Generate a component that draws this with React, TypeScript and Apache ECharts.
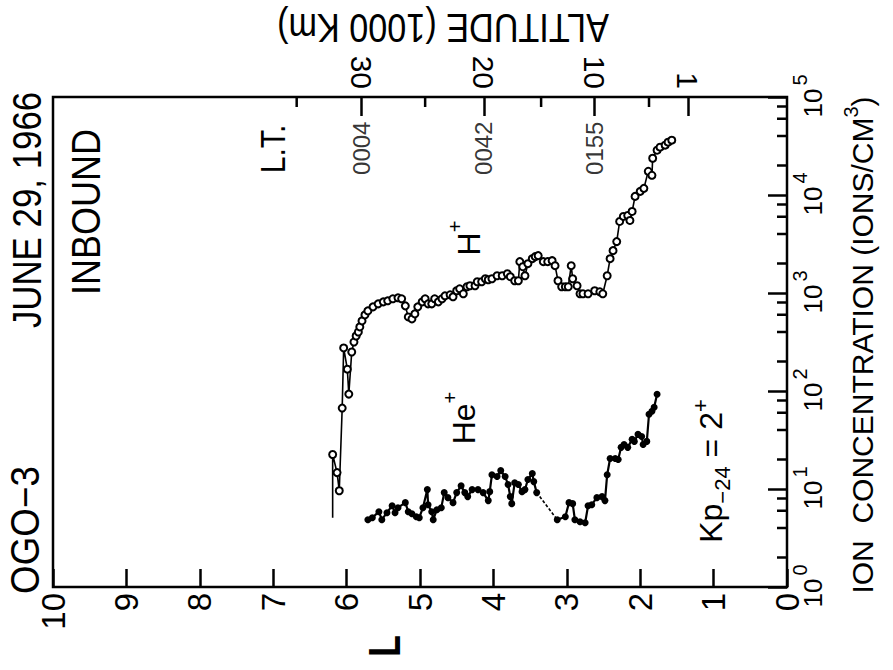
import React, { useEffect, useRef } from 'react';
import * as echarts from 'echarts';

// ---- data ----
// H+ : L-shell value and ion concentration (ions/cm^3)
const hPlusL = [
  6.19, 6.19, 6.13, 6.10, 6.06, 6.04, 5.99, 5.97, 5.93, 5.90,
  5.87, 5.84, 5.82, 5.79, 5.75, 5.71, 5.64, 5.57, 5.50, 5.44,
  5.37, 5.30, 5.25, 5.20, 5.16, 5.11, 5.07, 5.03, 4.97, 4.93,
  4.89, 4.84, 4.80, 4.75, 4.70, 4.66, 4.59, 4.55, 4.50, 4.46,
  4.41, 4.36, 4.32, 4.25, 4.22, 4.16, 4.11, 4.07, 4.02, 3.95,
  3.88, 3.81, 3.77, 3.71, 3.66, 3.64, 3.60, 3.57, 3.53, 3.47,
  3.43, 3.39, 3.32, 3.26, 3.20, 3.16, 3.12, 3.07, 3.02, 2.98,
  2.94, 2.92, 2.86, 2.82, 2.78, 2.71, 2.62, 2.55, 2.51, 2.45,
  2.41, 2.37, 2.32, 2.28, 2.23, 2.17, 2.14, 2.11, 2.07, 2.00,
  1.95, 1.89, 1.84, 1.83, 1.77, 1.73, 1.66, 1.62, 1.57,
];
const hPlusN = [
  5.1, 22.5, 14.7, 9.6, 67, 275, 167, 93, 250, 316,
  364, 400, 451, 519, 598, 657, 722, 775, 812, 832,
  873, 893, 873, 739, 570, 544, 612, 722, 812, 873,
  775, 775, 873, 812, 873, 936, 959, 914, 1054, 1104,
  982, 1158, 1186, 1186, 1303, 1303, 1397, 1365, 1397, 1500,
  1500, 1573, 1466, 1334, 1334, 2089, 1854, 1500, 1991, 2240,
  2349, 2405, 2089, 2089, 2138, 1900, 1334, 1158, 1158, 1158,
  1900, 1397, 1186, 982, 982, 982, 1054, 1029, 982, 1500,
  2240, 2706, 3347, 5370, 6040, 6180, 5496, 6790, 9680, 10890,
  11690, 17460, 15890, 23710, 28640, 30760, 32230, 34590, 36250,
];
// He+
const heL = [
  5.71, 5.65, 5.56, 5.52, 5.45, 5.38, 5.34, 5.30, 5.20, 5.16,
  5.11, 5.05, 5.01, 4.96, 4.90, 4.89, 4.84, 4.82, 4.77, 4.71,
  4.67, 4.62, 4.55, 4.50, 4.44, 4.39, 4.35, 4.29, 4.21, 4.14,
  4.07, 4.05, 4.02, 3.95, 3.90, 3.84, 3.80, 3.77, 3.75, 3.71,
  3.66, 3.61, 3.57, 3.53, 3.47, 3.45, 3.41, 3.13, 3.02, 2.97,
  2.92, 2.89, 2.82, 2.75, 2.71, 2.66, 2.59, 2.52, 2.48, 2.45,
  2.41, 2.34, 2.30, 2.26, 2.22, 2.17, 2.11, 2.08, 2.03, 1.98,
  1.96, 1.91, 1.88, 1.84, 1.81, 1.77,
];
const heN = [
  4.86, 5.09, 5.87, 4.86, 5.73, 6.76, 5.73, 6.45, 7.26, 5.87,
  5.60, 5.21, 5.09, 6.45, 9.86, 6.92, 5.87, 4.86, 6.15, 6.45,
  9.19, 8.16, 7.26, 9.19, 10.8, 9.19, 8.36, 9.86, 9.86, 9.19,
  7.61, 9.40, 14.0, 13.4, 15.4, 13.4, 11.1, 8.36, 7.09, 11.6,
  11.1, 9.40, 9.86, 12.5, 14.4, 11.9, 9.19, 4.86, 5.21, 7.26,
  7.09, 4.86, 4.63, 4.53, 6.76, 6.92, 8.16, 8.36, 7.61, 14.0,
  20.5, 20.5, 20.0, 26.6, 28.5, 26.6, 32.1, 30.6, 36.1, 34.4,
  28.5, 30.6, 57.9, 62.1, 68.2, 92.8,
];
const heGapAfter = 46; // dotted segment between this point and the next

// axes
const lMin = 0;
const lMax = 10;
const concMin = 1;
const concMax = 100000;
const concDecades = [1, 10, 100, 1000, 10000, 100000];
const concMinorTicks = [
  2, 4, 6, 8, 20, 40, 60, 80, 200, 400, 600, 800,
  2000, 4000, 6000, 8000, 20000, 40000, 60000, 80000,
];
const altitudeTickL = [5.80, 4.13, 2.62, 1.35];
const altitudeLabels = ['30', '20', '10', '1'];
const altitudeMinorL = [6.68, 4.93, 3.35, 1.88];
const ltL = [5.80, 4.13, 2.62];
const ltLabels = ['0004', '0042', '0155'];
const ltLevel = 30000;

const REG = "'Liberation Sans', Arial, Helvetica, sans-serif";

function vText(x: number, y: number, text: string, fontSize: number, squeeze: number, extra: any = {}) {
  return {
    type: 'text', x, y, rotation: Math.PI / 2, scaleX: squeeze,
    style: { text, fontSize, fontFamily: REG, fill: '#000', align: 'center', verticalAlign: 'middle', ...extra },
  };
}

export default function App() {
  const ref = useRef<HTMLDivElement>(null);
  useEffect(() => {
    if (!ref.current) return;
    const chart = echarts.init(ref.current, null, { renderer: 'svg' });

    const hData = hPlusL.map((L, i) =>
      i === 0 ? { value: [L, hPlusN[i]], symbol: 'none' } : [L, hPlusN[i]]
    );
    const heData = heL.map((L, i) => [L, heN[i]]);
    const tickStyle = { color: '#000', width: 2.5 };

    const option: any = {
      animation: false,
      backgroundColor: '#fff',
      grid: {
        left: 53, right: 106, top: 97, bottom: 83,
        show: true, borderColor: '#000', borderWidth: 2.5,
        backgroundColor: 'transparent',
      },
      xAxis: [
        {
          type: 'value', min: lMin, max: lMax, interval: 1, inverse: true,
          position: 'bottom',
          axisLine: { show: false }, splitLine: { show: false },
          axisTick: { show: true, inside: true, length: 18, lineStyle: tickStyle },
          axisLabel: {
            rotate: 90, margin: 6, fontSize: 33, fontFamily: REG, color: '#000',
            showMinLabel: true, showMaxLabel: true,
          },
        },
        {
          type: 'value', min: lMin, max: lMax, inverse: true, position: 'top',
          axisLine: { show: false }, splitLine: { show: false },
          axisTick: {
            show: true, inside: true, length: 19, customValues: altitudeTickL,
            lineStyle: tickStyle,
          },
          axisLabel: {
            customValues: altitudeTickL, rotate: 90, margin: 8, fontSize: 30,
            fontFamily: REG, color: '#000',
            formatter: (v: number) => {
              let best = 0;
              for (let i = 1; i < altitudeTickL.length; i++) {
                if (Math.abs(altitudeTickL[i] - v) < Math.abs(altitudeTickL[best] - v)) best = i;
              }
              return altitudeLabels[best];
            },
          },
        },
      ],
      yAxis: {
        type: 'log', logBase: 10, min: concMin, max: concMax, splitNumber: 5,
        position: 'right',
        axisLine: { show: false }, splitLine: { show: false },
        axisTick: { show: true, inside: true, length: 19, lineStyle: tickStyle },
        axisLabel: { show: false },
      },
      series: [
        {
          name: 'H+', type: 'line', data: hData, xAxisIndex: 0, yAxisIndex: 0,
          symbol: 'emptyCircle', symbolSize: 7,
          lineStyle: { color: '#000', width: 1.6 },
          itemStyle: { color: '#000', borderWidth: 1.4 },
          z: 3,
        },
        {
          name: 'He+', type: 'line', data: heData.slice(0, heGapAfter + 1),
          symbol: 'circle', symbolSize: 7,
          lineStyle: { color: '#000', width: 2.2 }, itemStyle: { color: '#000' }, z: 3,
        },
        {
          name: 'He+ (b)', type: 'line', data: heData.slice(heGapAfter + 1),
          symbol: 'circle', symbolSize: 7,
          lineStyle: { color: '#000', width: 2.2 }, itemStyle: { color: '#000' }, z: 3,
        },
        {
          name: 'He+ gap', type: 'line', data: heData.slice(heGapAfter, heGapAfter + 2),
          symbol: 'none', lineStyle: { color: '#000', width: 1.6, type: [3, 2] }, z: 2,
        },
        {
          name: 'L.T.', type: 'scatter', data: ltL.map((L, i) => ({ value: [L, ltLevel], name: ltLabels[i] })),
          symbolSize: 1, itemStyle: { color: 'transparent' }, silent: true,
          label: {
            show: true, position: 'inside', rotate: 90, formatter: (p: any) => p.name,
            fontSize: 24, fontFamily: REG, color: '#000',
          },
        },
        {
          name: 'minor-y', type: 'custom', silent: true, z: 5,
          data: concMinorTicks.map((v) => [lMin, v]),
          renderItem: (params: any, api: any) => {
            const p = api.coord([api.value(0), api.value(1)]);
            return {
              type: 'line',
              shape: { x1: p[0], y1: p[1], x2: p[0] - 10, y2: p[1] },
              style: { stroke: '#000', lineWidth: 2.5 },
            };
          },
        },
        {
          name: 'y-labels', type: 'custom', silent: true, z: 5, clip: false,
          data: concDecades.map((v) => [lMin, v]),
          renderItem: (params: any, api: any) => {
            const v = api.value(1);
            const p = api.coord([api.value(0), v]);
            return {
              type: 'group', x: p[0], y: p[1], rotation: Math.PI / 2,
              children: [
                {
                  type: 'text', x: -6, y: 26,
                  style: { text: '10', fontSize: 26, fontFamily: REG, fill: '#000', align: 'center', verticalAlign: 'middle' },
                },
                {
                  type: 'text', x: 17, y: 13,
                  style: { text: String(Math.round(Math.log10(v))), fontSize: 20, fontFamily: REG, fill: '#000', align: 'center', verticalAlign: 'middle' },
                },
              ],
            };
          },
        },
        {
          name: 'minor-alt', type: 'custom', silent: true, z: 5,
          data: altitudeMinorL.map((L) => [L, concMax]),
          renderItem: (params: any, api: any) => {
            const p = api.coord([api.value(0), api.value(1)]);
            return {
              type: 'line',
              shape: { x1: p[0], y1: p[1], x2: p[0], y2: p[1] + 10 },
              style: { stroke: '#000', lineWidth: 2.5 },
            };
          },
        },
      ],
      graphic: [
        vText(27, 210, 'JUNE 29, 1966', 41, 0.85),
        vText(86, 212, 'INBOUND', 40, 0.9),
        vText(25, 530, 'OGO−3', 40, 0.92),
        vText(273, 149, 'L.T.', 36, 0.84),
        vText(385, 646, 'L', 44, 0.8, { fontWeight: 'bold' }),
        {
          type: 'text', x: 443, y: 28, rotation: Math.PI, scaleX: 0.855,
          style: { text: 'ALTITUDE (1000 Km)', fontSize: 40, fontFamily: REG, fill: '#000', align: 'center', verticalAlign: 'middle' },
        },
        {
          type: 'text', x: 859, y: 345, rotation: Math.PI / 2,
          style: {
            text: '{a|ION  CONCENTRATION (IONS/CM}{s|3}{a|)}', align: 'center', verticalAlign: 'middle',
            rich: {
              a: { fontSize: 30, fontFamily: REG, fill: '#000', lineHeight: 36, verticalAlign: 'bottom' },
              s: { fontSize: 20, fontFamily: REG, fill: '#000', lineHeight: 20, verticalAlign: 'top' },
            },
          },
        },
        {
          type: 'text', x: 465, y: 238, rotation: Math.PI / 2,
          style: {
            text: '{a|H}{s|+}', align: 'center', verticalAlign: 'middle',
            rich: {
              a: { fontSize: 32, fontFamily: REG, fill: '#000', lineHeight: 40, verticalAlign: 'bottom' },
              s: { fontSize: 20, fontFamily: REG, fill: '#000', lineHeight: 20, verticalAlign: 'top' },
            },
          },
        },
        {
          type: 'text', x: 460, y: 418, rotation: Math.PI / 2,
          style: {
            text: '{a|He}{s|+}', align: 'center', verticalAlign: 'middle',
            rich: {
              a: { fontSize: 32, fontFamily: REG, fill: '#000', lineHeight: 40, verticalAlign: 'bottom' },
              s: { fontSize: 20, fontFamily: REG, fill: '#000', lineHeight: 20, verticalAlign: 'top' },
            },
          },
        },
        {
          type: 'text', x: 711, y: 471, rotation: Math.PI / 2,
          style: {
            text: '{a|Kp}{b|−24}{a| = 2}{c|+}', align: 'center', verticalAlign: 'middle',
            rich: {
              a: { fontSize: 32, fontFamily: REG, fill: '#000', lineHeight: 44, verticalAlign: 'middle' },
              b: { fontSize: 22, fontFamily: REG, fill: '#000', lineHeight: 22, verticalAlign: 'bottom' },
              c: { fontSize: 22, fontFamily: REG, fill: '#000', lineHeight: 22, verticalAlign: 'top' },
            },
          },
        },
      ],
    };
    chart.setOption(option);
    return () => chart.dispose();
  }, []);
  return (
    <div
      ref={ref}
      style={{ position: 'absolute', left: 0, top: 0, width: 893, height: 670, background: '#fff' }}
    />
  );
}
